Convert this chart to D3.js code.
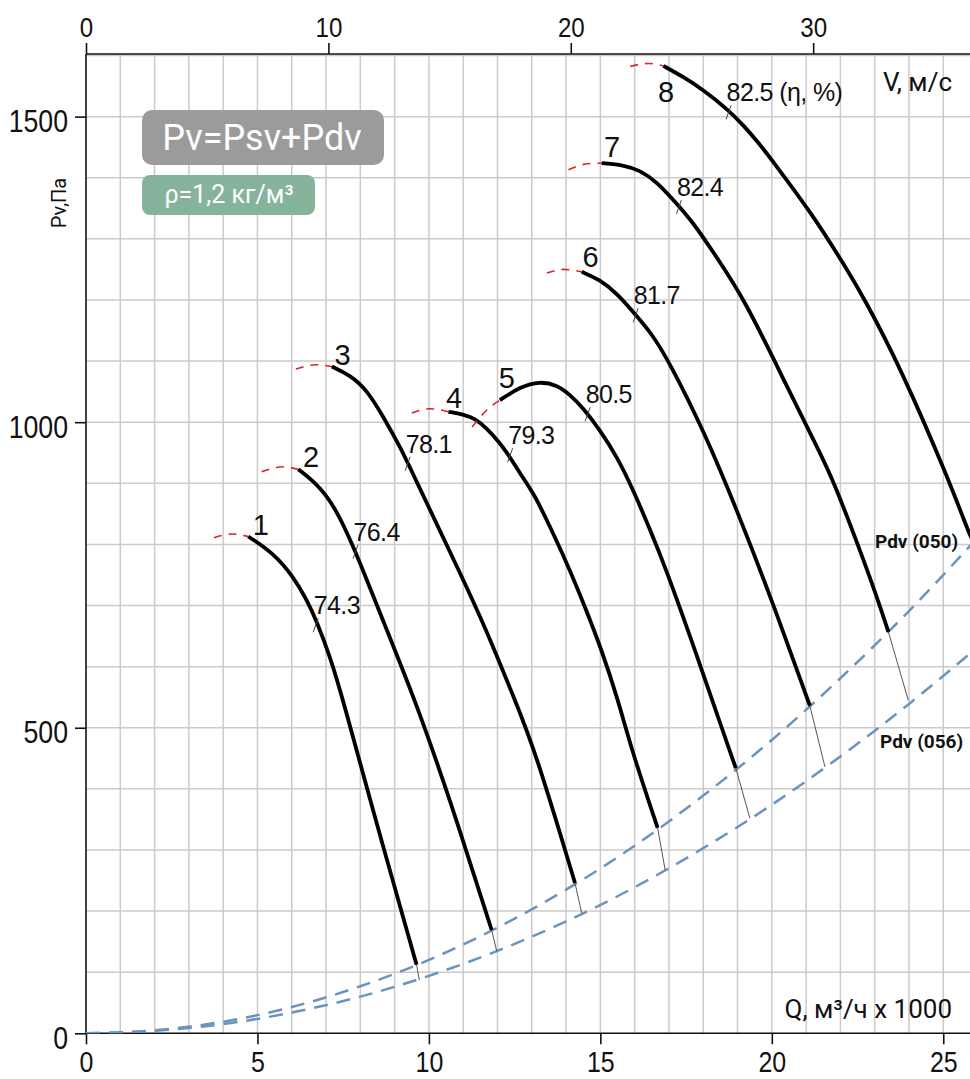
<!DOCTYPE html>
<html>
<head>
<meta charset="utf-8">
<script src="https://cdn.jsdelivr.net/npm/d3@7"></script>
<style>
  html, body { margin: 0; padding: 0; background: #fff; }
  svg { display: block; }
</style>
</head>
<body>
<svg id="chart" width="970" height="1079"></svg>
<script>
// ---- Data -------------------------------------------------------------
// Fan curves: flow Q (thousand m³/h) vs total pressure Pv (Pa)
const curveLabels = ["1", "2", "3", "4", "5", "6", "7", "8"];
const curveQ = [
  [4.73, 5.46, 6.05, 6.44, 6.73, 7.12, 7.50, 8.28, 9.64],
  [6.19, 6.82, 7.31, 7.80, 8.19, 8.77, 9.60, 10.62, 11.83],
  [7.17, 7.70, 8.19, 8.67, 9.16, 9.64, 10.13, 10.91, 11.64, 12.51, 13.09, 14.26],
  [10.57, 11.00, 11.34, 11.69, 12.07, 12.35, 12.66, 13.05, 13.44, 14.07, 14.55, 15.04, 15.52, 15.91, 16.67],
  [12.07, 12.66, 13.24, 13.73, 14.12, 14.50, 14.99, 15.48, 15.96, 16.45, 16.89, 17.91, 18.26, 18.95],
  [14.46, 14.99, 15.48, 16.04, 16.48, 16.98, 18.05, 19.02, 20.00, 21.11],
  [15.04, 15.67, 16.16, 16.64, 17.27, 17.71, 18.25, 19.22, 20.39, 21.36, 21.79, 22.57, 23.06, 23.40],
  [16.84, 17.42, 18.00, 18.73, 19.17, 19.66, 20.00, 21.16, 22.14, 22.72, 23.74, 25.20, 25.78, 25.90]
];
const curveP = [
  [813, 786, 747, 709, 674, 616, 545, 382, 112],
  [923, 895, 856, 796, 742, 660, 545, 382, 169],
  [1091, 1077, 1053, 1009, 960, 903, 845, 753, 665, 545, 464, 246],
  [1017, 1013, 1006, 990, 966, 944, 916, 884, 840, 764, 698, 627, 545, 464, 336],
  [1036, 1058, 1067, 1061, 1045, 1023, 987, 944, 889, 824, 764, 603, 545, 434],
  [1246, 1233, 1211, 1175, 1146, 1102, 982, 851, 709, 536],
  [1424, 1421, 1412, 1394, 1355, 1326, 1282, 1200, 1064, 955, 905, 791, 715, 657],
  [1583, 1565, 1544, 1511, 1486, 1454, 1429, 1342, 1255, 1200, 1091, 901, 813, 803]
];

// Unstable (surge) zone in front of each curve
const unstableQ = [
  [3.73, 4.26, 4.73],
  [5.12, 5.75, 6.19],
  [6.12, 6.71, 7.17],
  [9.50, 10.03, 10.57],
  [11.26, 11.69, 12.07],
  [13.44, 13.91, 14.46],
  [14.07, 14.64, 15.04],
  [15.87, 16.39, 16.84]
];
const unstableP = [
  [811, 817, 813],
  [919, 927, 923],
  [1087, 1094, 1091],
  [1015, 1022, 1017],
  [992, 1020, 1036],
  [1244, 1250, 1246],
  [1413, 1423, 1424],
  [1582, 1587, 1583]
];

// End of each curve moved onto the Pdv (056) line
const dynEndQ = [9.72, 11.98, 14.46, 16.89, 19.36, 21.55, 23.98, null];
const dynEndP = [87, 134, 196, 267, 352, 436, 545, null];

// Peak efficiency points (η, %)
const effLabels = ["74.3", "76.4", "78.1", "79.3", "80.5", "81.7", "82.4", "82.5 (η, %)"];
const effQ = [6.70, 7.86, 9.38, 12.37, 14.63, 16.03, 17.29, 18.74];
const effP = [668, 788, 932, 946, 1013, 1175, 1352, 1507];

// Dynamic pressure of the outlet, two sizes
const pdvQ = [0, 2, 4, 6, 8, 10, 12, 14, 16, 18, 20, 22, 24, 26];
const pdv050 = [0, 5, 19, 43, 77, 120, 173, 235, 307, 389, 480, 581, 691, 811];
const pdv056 = [0, 4, 15, 34, 60, 94, 135, 183, 239, 303, 374, 453, 539, 632];

// Axes
const qTicks = [0, 5, 10, 15, 20, 25];
const pTicks = [0, 500, 1000, 1500];
const vTicks = [0, 10, 20, 30];
const qMax = 25.78, pMax = 1602.5, vMax = 36.47;

// ---- Layout -----------------------------------------------------------
const plotLeft = 86, plotRight = 970, plotTop = 54, plotBottom = 1033.3;
const numberOffsets = [[12.7, -1.7], [12.7, -2.3], [10.8, -1.7], [5.7, -3.7],
                       [7, -12], [8.8, -5], [10.3, -6.3], [2.7, 36]];

const svg = d3.select("#chart");
const x = d3.scaleLinear().domain([0, qMax]).range([plotLeft, plotRight]);
const y = d3.scaleLinear().domain([0, pMax]).range([plotBottom, plotTop]);
const v = d3.scaleLinear().domain([0, vMax]).range([plotLeft, plotRight]);

const numFont = "'Liberation Sans', Arial, sans-serif";
const textFont = "Roboto, 'Liberation Sans', sans-serif";

// condensed look for the axis numbers
function condense(sel, k) {
  sel.each(function () {
    const w = this.getComputedTextLength();
    d3.select(this).attr("textLength", w * k).attr("lengthAdjust", "spacingAndGlyphs");
  });
}

svg.append("defs").append("clipPath").attr("id", "plotClip")
  .append("rect").attr("x", plotLeft).attr("y", plotTop)
  .attr("width", plotRight - plotLeft).attr("height", plotBottom - plotTop);

// Grid
const grid = svg.append("g").attr("stroke", "#cbcbcb").attr("stroke-width", 1.5);
grid.selectAll("line.gx").data(d3.range(1, Math.floor(qMax) + 1)).join("line")
  .attr("class", "gx")
  .attr("x1", d => x(d)).attr("x2", d => x(d))
  .attr("y1", plotTop).attr("y2", plotBottom);
grid.selectAll("line.gy").data(d3.range(100, pMax, 100)).join("line")
  .attr("class", "gy")
  .attr("x1", plotLeft).attr("x2", plotRight)
  .attr("y1", d => y(d)).attr("y2", d => y(d));

// Axes
const axisLeft = svg.append("g").attr("transform", `translate(${plotLeft},0)`)
  .call(d3.axisLeft(y).tickValues(pTicks).tickSize(11).tickPadding(7).tickFormat(d3.format("d")));
const axisBottom = svg.append("g").attr("transform", `translate(0,${plotBottom})`)
  .call(d3.axisBottom(x).tickValues(qTicks).tickSize(11).tickPadding(7).tickFormat(d3.format("d")));
const axisTop = svg.append("g").attr("transform", `translate(0,${plotTop})`)
  .call(d3.axisTop(v).tickValues(vTicks).tickSize(11).tickPadding(6).tickFormat(d3.format("d")));

[axisLeft, axisBottom, axisTop].forEach(g => {
  g.select(".domain").attr("stroke", "#111").attr("stroke-width", 1.6);
  g.selectAll(".tick line").attr("stroke", "#111").attr("stroke-width", 1.6);
  g.selectAll(".tick text").attr("fill", "#111").style("font-family", numFont);
});
axisLeft.selectAll(".tick text").style("font-size", "31px").attr("dy", "0.48em");
axisBottom.selectAll(".tick text").style("font-size", "29px").attr("dy", "0.7em");
axisTop.selectAll(".tick text").style("font-size", "28px");
[axisLeft, axisBottom, axisTop].forEach(g => condense(g.selectAll(".tick text"), 0.86));
axisLeft.select(".domain").attr("d", `M0,${plotTop}V${plotBottom}`);
axisBottom.select(".domain").attr("d", `M${plotLeft},0H${plotRight}`);
axisTop.select(".domain").attr("d", `M${plotLeft},0H${plotRight}`);

const plot = svg.append("g").attr("clip-path", "url(#plotClip)");

// Dynamic pressure lines
const pdvLine = d3.line().x((d, i) => x(pdvQ[i])).y(d => y(d)).curve(d3.curveMonotoneX);
[pdv050, pdv056].forEach(arr => {
  plot.append("path").attr("d", pdvLine(arr))
    .attr("fill", "none").attr("stroke", "#6a94bd").attr("stroke-width", 2.5)
    .attr("stroke-dasharray", "14,9");
});

const smooth = d3.line().x(d => x(d[0])).y(d => y(d[1])).curve(d3.curveBasis);
const arc = d3.line().x(d => x(d[0])).y(d => y(d[1])).curve(d3.curveMonotoneX);

curveLabels.forEach((lab, i) => {
  const pts = curveQ[i].map((q, j) => [q, curveP[i][j]]);
  // surge zone
  const up = unstableQ[i].map((q, j) => [q, unstableP[i][j]]);
  plot.append("path").attr("d", arc(up))
    .attr("fill", "none").attr("stroke", "#e3202a").attr("stroke-width", 1.6)
    .attr("stroke-dasharray", "8,7");
  // continuation to the larger outlet
  if (dynEndQ[i] !== null) {
    const last = pts[pts.length - 1];
    plot.append("line")
      .attr("x1", x(last[0])).attr("y1", y(last[1]))
      .attr("x2", x(dynEndQ[i])).attr("y2", y(dynEndP[i]))
      .attr("stroke", "#555").attr("stroke-width", 1);
  }
  // main curve
  plot.append("path").attr("d", smooth(pts))
    .attr("fill", "none").attr("stroke", "#000").attr("stroke-width", 3.8)
    .attr("stroke-linecap", "butt");
  // curve number
  svg.append("text")
    .attr("x", x(pts[0][0]) + numberOffsets[i][0])
    .attr("y", y(pts[0][1]) + numberOffsets[i][1])
    .attr("text-anchor", "middle")
    .style("font-family", "'Liberation Sans', Arial, sans-serif")
    .style("font-size", "29px").attr("fill", "#111").text(lab);
  // efficiency mark and value
  const ex = x(effQ[i]), ey = y(effP[i]);
  svg.append("line").attr("x1", ex - 2.5).attr("y1", ey + 7)
    .attr("x2", ex + 2.5).attr("y2", ey - 7)
    .attr("stroke", "#444").attr("stroke-width", 1);
  svg.append("text").attr("x", ex - 2).attr("y", ey - 11)
    .style("font-family", "'Liberation Sans', Arial, sans-serif")
    .style("font-size", "25px").style("letter-spacing", "-0.6px")
    .attr("fill", "#111").text(effLabels[i]);
});

// Pdv line labels
svg.append("text").attr("x", 875).attr("y", 548)
  .style("font-family", textFont).style("font-weight", "bold").style("font-size", "19px")
  .attr("fill", "#111").text("Pdv (050)");
svg.append("text").attr("x", 880).attr("y", 748)
  .style("font-family", textFont).style("font-weight", "bold").style("font-size", "19px")
  .attr("fill", "#111").text("Pdv (056)");

// Axis titles
svg.append("text").attr("x", 952).attr("y", 91).attr("text-anchor", "end")
  .style("font-family", textFont).style("font-size", "26px").attr("fill", "#111")
  .text("V, м/с");
svg.append("text").attr("x", 952).attr("y", 1018).attr("text-anchor", "end")
  .style("font-family", textFont).style("font-size", "26px").attr("fill", "#111")
  .text("Q, м³/ч x 1000");
svg.append("text").attr("transform", "translate(66,203) rotate(-90)")
  .attr("text-anchor", "middle")
  .style("font-family", textFont).style("font-size", "20px").attr("fill", "#111")
  .text("Pv,Па");

// Formula badges
svg.append("rect").attr("x", 142).attr("y", 110).attr("width", 242).attr("height", 55)
  .attr("rx", 10).attr("fill", "#9b9b9b");
svg.append("text").attr("x", 262).attr("y", 150).attr("text-anchor", "middle")
  .style("font-family", textFont).style("font-size", "36px").attr("fill", "#fff")
  .text("Pv=Psv+Pdv");
svg.append("rect").attr("x", 142).attr("y", 175).attr("width", 173).attr("height", 40)
  .attr("rx", 8).attr("fill", "#86b49b");
svg.append("text").attr("x", 229).attr("y", 203).attr("text-anchor", "middle")
  .style("font-family", textFont).style("font-size", "25px").attr("fill", "#fff")
  .text("ρ=1,2 кг/м³");
</script>
</body>
</html>
